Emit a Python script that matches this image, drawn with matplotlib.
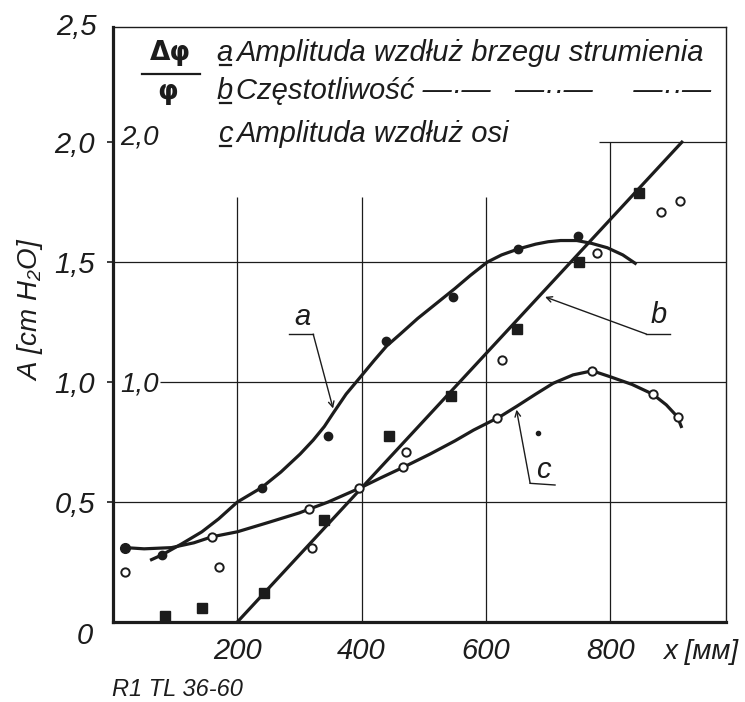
import matplotlib
matplotlib.use("Agg")
import matplotlib.pyplot as plt

# curve a - amplituda wzdluz brzegu strumienia (smooth line)
a_x = [62, 79, 110, 143, 170, 200, 239, 270, 301, 322, 340, 354, 375, 396, 420, 440,
       462, 490, 526, 550, 575, 602, 625, 652, 680, 700, 720, 746, 770, 795, 820, 840]
a_y = [0.26, 0.28, 0.325, 0.376, 0.43, 0.5, 0.56, 0.625, 0.70, 0.758, 0.815, 0.87, 0.95, 1.015,
       1.09, 1.15, 1.20, 1.265, 1.34, 1.39, 1.445, 1.50, 1.53, 1.555, 1.575, 1.585, 1.59, 1.59,
       1.578, 1.56, 1.53, 1.495]
# curve b - czestotliwosc (straight line)
b_x = [200, 915]
b_y = [0.0, 2.0]
# curve c - amplituda wzdluz osi
c_x = [20, 50, 94, 130, 159, 200, 250, 300, 315, 346, 396, 430, 467, 510, 550, 580, 622,
       650, 680, 708, 740, 771, 800, 835, 868, 890, 908, 914]
c_y = [0.31, 0.305, 0.31, 0.33, 0.355, 0.376, 0.415, 0.455, 0.47, 0.50, 0.557, 0.60, 0.645,
       0.70, 0.755, 0.80, 0.855, 0.90, 0.95, 0.995, 1.03, 1.047, 1.022, 0.99, 0.95, 0.905,
       0.855, 0.815]

# measured points
pa_x = [79, 239, 346, 439, 547, 652, 748]
pa_y = [0.28, 0.56, 0.775, 1.17, 1.355, 1.555, 1.61]
pb_x = [84, 143, 243, 340, 444, 543, 650, 749, 846]
pb_y = [0.026, 0.057, 0.12, 0.425, 0.775, 0.94, 1.22, 1.50, 1.79]
po_x = [20, 170, 320, 471, 625, 778, 881, 912]
po_y = [0.21, 0.23, 0.31, 0.71, 1.09, 1.54, 1.71, 1.754]
pc_x = [159, 315, 396, 467, 617, 771, 868, 908]
pc_y = [0.355, 0.47, 0.557, 0.645, 0.85, 1.047, 0.95, 0.853]
c0_x, c0_y = [20], [0.31]
dot_x, dot_y = [684], [0.786]

x_ticks = [200, 400, 600, 800]
x_labels = ["200", "400", "600", "800"]
y_ticks = [0.5, 1.0, 1.5, 2.0]
y_labels = ["0,5", "1,0", "1,5", "2,0"]

INK = "#1c1c1c"
FONT = ["Liberation Sans", "DejaVu Sans"]
plt.rcParams["font.family"] = FONT
plt.rcParams["font.style"] = "italic"
plt.rcParams["mathtext.fontset"] = "custom"
plt.rcParams["mathtext.it"] = "Liberation Sans:italic"
plt.rcParams["mathtext.rm"] = "Liberation Sans:italic"

fig = plt.figure(figsize=(7.45, 7.02), dpi=100)
ax = fig.add_axes([113 / 745, 1 - 622 / 702, 613 / 745, 595 / 702])
ax.set_xlim(0, 986)
ax.set_ylim(0, 2.48)

# grid drawn as partial lines, like the original drawing
gk = dict(color=INK, lw=0.9, zorder=1)
ax.vlines([200, 400, 600], 0, 1.77, **gk)
ax.vlines(800, 0, 2.0, **gk)
ax.hlines([0.5, 1.5], 0, 986, **gk)
ax.hlines(1.0, 76, 986, **gk)
ax.hlines(2.0, 782, 986, **gk)

ax.plot(a_x, a_y, color=INK, lw=2.3, zorder=3)
ax.plot(b_x, b_y, color=INK, lw=2.3, zorder=3)
ax.plot(c_x, c_y, color=INK, lw=2.3, zorder=3)

ax.plot(pa_x, pa_y, "o", color=INK, ms=6, zorder=4)
ax.plot(pb_x, pb_y, "s", color=INK, ms=6.5, zorder=4)
ax.plot(po_x, po_y, "o", mfc="white", mec=INK, mew=1.4, ms=6, zorder=4)
ax.plot(pc_x, pc_y, "o", mfc="white", mec=INK, mew=1.4, ms=6, zorder=5)
ax.plot(c0_x, c0_y, "o", color=INK, ms=7, zorder=5)
ax.plot(dot_x, dot_y, "o", color=INK, ms=3, zorder=4)

# leaders
lk = dict(color=INK, lw=1.0)
ak = dict(arrowstyle="->", color=INK, lw=1.0, shrinkA=0, shrinkB=0)
ax.plot([283, 322], [1.20, 1.20], **lk)
ax.annotate("", xy=(354, 0.89), xytext=(322, 1.20), arrowprops=ak)
ax.text(304, 1.27, "a", fontsize=21, color=INK, ha="center", va="center")
ax.plot([858, 896], [1.20, 1.20], **lk)
ax.annotate("", xy=(695, 1.355), xytext=(858, 1.20), arrowprops=ak)
ax.text(877, 1.28, "b", fontsize=21, color=INK, ha="center", va="center")
ax.plot([671, 711], [0.578, 0.571], **lk)
ax.annotate("", xy=(649, 0.885), xytext=(671, 0.578), arrowprops=ak)
ax.text(692, 0.635, "c", fontsize=21, color=INK, ha="center", va="center")

# legend block
ax.text(92, 2.37, "Δφ", fontsize=19, fontweight="bold", style="normal", color=INK,
        ha="center", va="center", family=["DejaVu Sans"])
ax.plot([47, 140], [2.283, 2.283], color=INK, lw=1.6)
ax.text(88, 2.21, "φ", fontsize=19, fontweight="bold", style="normal", color=INK,
        ha="center", va="center", family=["DejaVu Sans"])
leg = [("a", "Amplituda wzdłuż brzegu strumienia", 2.37),
       ("b", "Częstotliwość —·—   —··—     —··—", 2.215),
       ("c", "Amplituda wzdłuż osi", 2.035)]
for letter, txt, yy in leg:
    ax.text(180, yy, letter, fontsize=21, color=INK, ha="center", va="center")
    ax.plot([172, 189], [yy - 0.05, yy - 0.05], color=INK, lw=1.6)
    ax.text(198, yy, txt, fontsize=21, color=INK, ha="left", va="center")

ax.text(43, 2.02, "2,0", fontsize=20, color=INK, ha="center", va="center")
ax.text(43, 0.99, "1,0", fontsize=20, color=INK, ha="center", va="center")

ax.set_xticks(x_ticks, x_labels)
ax.set_yticks(y_ticks, y_labels)
ax.tick_params(axis="x", length=0, pad=11, labelsize=21, labelcolor=INK)
ax.tick_params(axis="y", length=4, width=1.2, pad=9, labelsize=21, labelcolor=INK, color=INK)
for s in ["left", "bottom"]:
    ax.spines[s].set_linewidth(2.3)
for s in ["top", "right"]:
    ax.spines[s].set_linewidth(1.0)
for s in ax.spines.values():
    s.set_color(INK)

ax.text(-0.026, 1.0, "2,5", transform=ax.transAxes, fontsize=21, color=INK,
        ha="right", va="center")
ax.text(-0.033, -0.024, "0", transform=ax.transAxes, fontsize=21, color=INK,
        ha="right", va="center")
ax.text(-0.135, 0.526, "A [cm H$_2$O]", transform=ax.transAxes, rotation=90, fontsize=20,
        color=INK, ha="center", va="center")
ax.text(946, -0.05, "x [мм]", transform=ax.get_xaxis_transform(), fontsize=20, color=INK,
        ha="center", va="center")
fig.text(177 / 745, 1 - 690 / 702, "R1 TL 36-60", fontsize=17, color=INK,
         ha="center", va="center")

fig.savefig("out.png", dpi=100)
